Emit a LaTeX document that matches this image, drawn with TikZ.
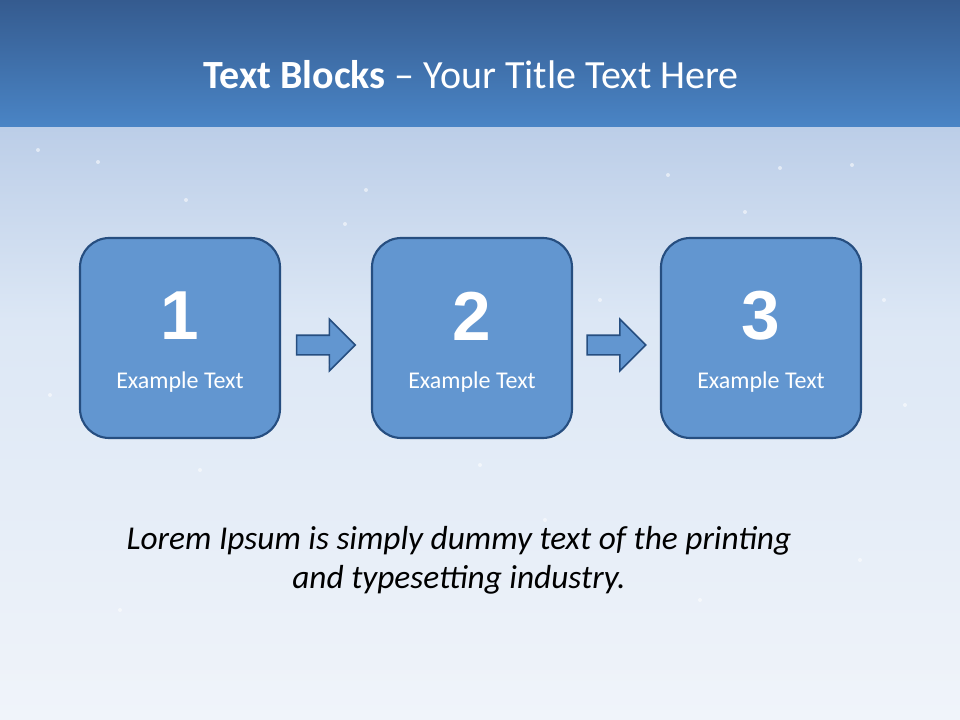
\documentclass[tikz,border=0pt]{standalone}
\usepackage{fontspec}
\setmainfont{Carlito}
\newfontfamily\numfont{Liberation Sans}
\usetikzlibrary{shapes.arrows,positioning,calc}
\definecolor{bandtop}{RGB}{53,91,143}
\definecolor{bandbot}{RGB}{74,133,198}
\definecolor{skytop}{RGB}{188,206,232}
\definecolor{skymid}{RGB}{220,231,245}
\definecolor{skybot}{RGB}{240,244,250}
\definecolor{boxfill}{RGB}{98,150,208}
\definecolor{boxline}{RGB}{38,78,128}
\begin{document}
\begin{tikzpicture}[x=0.75pt,y=-0.75pt,
  stepbox/.style={draw=boxline,line width=1.6pt,fill=boxfill,rounded corners=22pt,minimum width=150pt,minimum height=150pt},
  numtxt/.style={text=white,font=\numfont\bfseries\fontsize{52}{52}\selectfont},
  captxt/.style={text=white,font=\fontsize{18}{21}\selectfont},
  flowarr/.style={single arrow,draw=boxline,line width=1.2pt,fill=boxfill,minimum height=44pt,inner xsep=0pt,inner ysep=6.75pt,single arrow head extend=12pt,single arrow tip angle=90},
  spark/.style={fill=white,opacity=0.55,circle,inner sep=0pt,minimum size=3pt}]
\useasboundingbox (0,0) rectangle (960,720);
% background
\fill[top color=bandtop,bottom color=bandbot] (0,0) rectangle (960,128);
\fill[top color=skytop,bottom color=skymid] (0,128) rectangle (960,320);
\fill[top color=skymid,bottom color=skybot] (0,320) rectangle (960,720);
\foreach \x/\y in {38/150,98/162,186/200,345/224,366/190,600/300,668/175,780/168,852/165,884/300,905/405,480/465,200/470,50/395,745/212,545/520,330/365,700/600,860/560,120/610}
  \node[spark] at (\x,\y) {};
% title
\node[text=white,font=\fontsize{30}{36}\selectfont] (title) at (471,75) {\textbf{Text Blocks} -- Your Title Text Here};
% blocks
\foreach \i/\x in {1/180,2/472,3/761}{
  \node[stepbox] (b\i) at (\x,338) {};
  \node[numtxt] (n\i) at ($(b\i.center)+(0,-22)$) {\i};
  \node[captxt] (c\i) at ($(b\i.center)+(0,44)$) {Example Text};
}
\node[flowarr] (a1) at ($(b1.east)!0.5!(b2.west)+(-5,7)$) {};
\node[flowarr] (a2) at ($(b2.east)!0.5!(b3.west)+(-5,7)$) {};
% caption
\node[align=center,font=\itshape\fontsize{25}{29}\selectfont] (note) at (459,560) {Lorem Ipsum is simply dummy text of the printing\\and typesetting industry.};
\end{tikzpicture}
\end{document}
